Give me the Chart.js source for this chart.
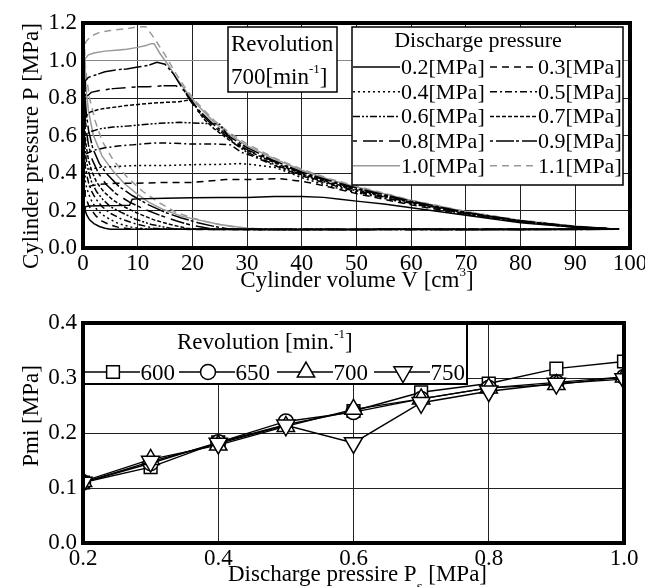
<!DOCTYPE html>
<html>
<head>
<meta charset="utf-8">
<script src="https://cdn.jsdelivr.net/npm/chart.js@4.4.1/dist/chart.umd.min.js"></script>
<style>
  body { margin: 0; background: #fff; }
  canvas { position: absolute; left: 0; }
</style>
</head>
<body>
<canvas id="pv" width="645" height="300" style="top:0"></canvas>
<canvas id="pmi" width="645" height="287" style="top:300px"></canvas>
<script>
// P-V loops at 700 min-1, one per discharge pressure (volume cm3, pressure MPa)
const vol02 = [98,90,80,70,60,55,50,47,44,40,35,30,25,20,15,10,9,8.5,6,3,1,0.4,0.4,0.7,1.2,2,3,4,5,20,40,60,80,98]
const pre02 = [0.1,0.11,0.135,0.175,0.215,0.235,0.25,0.26,0.27,0.275,0.275,0.27,0.27,0.268,0.265,0.262,0.26,0.228,0.226,0.225,0.224,0.22,0.2,0.175,0.15,0.13,0.115,0.105,0.1,0.1,0.098,0.1,0.098,0.1]
const vol03 = [98,90,80,70,60,50,45,42,40,36,30,26,20,15,10,6,3,1.2,0.4,0.4,0.6,1,1.6,2.4,3.4,4.8,6.5,9,40,60,80,98]
const pre03 = [0.1,0.111,0.138,0.178,0.23,0.29,0.325,0.345,0.355,0.37,0.365,0.365,0.35,0.35,0.345,0.345,0.34,0.33,0.31,0.28,0.26,0.23,0.2,0.17,0.145,0.125,0.11,0.1,0.098,0.1,0.1,0.1]
const vol04 = [98,90,80,70,60,50,45,40,36,35,31,28.7,24,21,15,10,6,3.1,1.2,0.4,0.4,0.6,1,1.6,2.4,3.4,4.8,6.5,9,12,40,60,80,98]
const pre04 = [0.1,0.112,0.14,0.181,0.235,0.295,0.33,0.375,0.42,0.43,0.445,0.45,0.445,0.445,0.44,0.44,0.435,0.43,0.42,0.4,0.36,0.33,0.29,0.25,0.21,0.18,0.155,0.13,0.11,0.1,0.1,0.098,0.1,0.1]
const vol05 = [98,90,80,70,60,50,45,40,35,31,29,27,24,19.6,15,12.8,9,6.8,4,1.8,0.4,0.4,0.6,1,1.6,2.4,3.5,5,7,9.5,13,15,40,60,80,98]
const pre05 = [0.1,0.112,0.141,0.183,0.238,0.3,0.34,0.385,0.44,0.49,0.51,0.55,0.555,0.555,0.56,0.56,0.55,0.545,0.535,0.52,0.5,0.44,0.4,0.35,0.3,0.26,0.22,0.185,0.155,0.13,0.105,0.1,0.098,0.1,0.1,0.1]
const vol06 = [98,90,80,70,60,50,45,40,35,30,27.5,26,25,22,17.7,14,11.7,8,5.5,3,1.3,0.4,0.4,0.6,1,1.6,2.5,3.6,5,7,9.5,12.5,16,18,40,60,80,98]
const pre06 = [0.1,0.113,0.142,0.185,0.242,0.305,0.345,0.39,0.445,0.51,0.56,0.62,0.66,0.665,0.67,0.665,0.66,0.65,0.645,0.635,0.62,0.6,0.52,0.47,0.41,0.35,0.3,0.26,0.22,0.19,0.155,0.125,0.105,0.1,0.1,0.098,0.1,0.1]
const vol07 = [98,90,80,70,60,50,45,40,35,30,27,24,22,20.5,19.5,17.5,14,11.7,8,5.5,3,1.3,0.4,0.4,0.6,1,1.6,2.5,3.8,5.5,7.5,10,13,16,19,21,40,60,80,98]
const pre07 = [0.1,0.113,0.143,0.187,0.245,0.31,0.35,0.395,0.455,0.52,0.57,0.635,0.69,0.76,0.79,0.78,0.775,0.77,0.76,0.75,0.74,0.725,0.7,0.6,0.54,0.47,0.41,0.35,0.3,0.255,0.22,0.185,0.15,0.125,0.105,0.1,0.098,0.1,0.1,0.1]
const vol08 = [98,90,80,70,60,50,45,40,35,30,27,24,21,19.5,18.5,17,14.5,12,10,8,5.5,3,1.5,0.4,0.4,0.6,1,1.7,2.8,4.2,6,8.5,11,14,17,20,24,40,60,80,98]
const pre08 = [0.1,0.114,0.144,0.188,0.247,0.315,0.355,0.4,0.46,0.525,0.58,0.645,0.73,0.79,0.84,0.865,0.865,0.86,0.86,0.855,0.85,0.84,0.83,0.8,0.7,0.63,0.55,0.47,0.4,0.34,0.29,0.245,0.21,0.175,0.145,0.12,0.1,0.1,0.098,0.1,0.1]
const vol09 = [98,90,80,70,60,50,45,40,35,30,27,24,21,19.5,18,16.5,15,13.5,12,10,8,6,4,3,2,1,0.4,0.4,0.6,1,1.8,3,4.5,6.5,9,12,15,18,21,24,27,40,60,80,98]
const pre09 = [0.1,0.114,0.145,0.19,0.25,0.32,0.36,0.405,0.465,0.535,0.59,0.655,0.74,0.8,0.86,0.93,0.98,0.99,0.975,0.965,0.955,0.95,0.94,0.93,0.92,0.91,0.89,0.8,0.72,0.63,0.53,0.45,0.39,0.33,0.28,0.23,0.19,0.16,0.135,0.115,0.1,0.098,0.1,0.098,0.1]
const vol10 = [98,90,80,70,60,50,45,40,35,30,27,24,21,19,17,15.5,14,13,12.5,11.5,10,8,6,4,2,1,0.4,0.4,0.6,1,1.9,3.5,5.5,7.5,9.8,12,14.7,18,21,25,30,34,50,70,85,98]
const pre10 = [0.1,0.116,0.147,0.193,0.253,0.325,0.365,0.415,0.475,0.545,0.6,0.67,0.76,0.83,0.91,0.98,1.04,1.09,1.09,1.08,1.07,1.06,1.055,1.05,1.04,1.03,1.01,0.92,0.84,0.73,0.6,0.49,0.41,0.345,0.29,0.245,0.205,0.17,0.15,0.125,0.105,0.1,0.1,0.098,0.1,0.1]
const vol11 = [98,90,80,70,60,50,45,40,35,30,27,24,21,19,17,15,13,11.5,10,8,5,3,1.5,0.5,0.3,0.4,0.7,1.2,2.2,3.5,5.5,8,11,14,17,20,24,28,33,45,60,80,98]
const pre11 = [0.1,0.117,0.148,0.195,0.255,0.33,0.37,0.42,0.48,0.555,0.61,0.68,0.77,0.84,0.93,1.03,1.12,1.18,1.18,1.17,1.16,1.15,1.13,1.1,1.06,0.98,0.9,0.8,0.68,0.57,0.47,0.38,0.3,0.24,0.19,0.16,0.13,0.11,0.1,0.1,0.098,0.1,0.1]

const dischargeLabels = ['0.2[MPa]','0.3[MPa]','0.4[MPa]','0.5[MPa]','0.6[MPa]','0.7[MPa]','0.8[MPa]','0.9[MPa]','1.0[MPa]','1.1[MPa]']

// Pmi vs discharge pressure for each revolution
const dischargeP = [0.2,0.3,0.4,0.5,0.6,0.7,0.8,0.9,1.0]
const pmi600 = [0.11,0.138,0.183,0.215,0.240,0.274,0.290,0.317,0.330]
const pmi650 = [0.11,0.145,0.183,0.221,0.238,0.262,0.282,0.292,0.302]
const pmi700 = [0.112,0.152,0.178,0.212,0.243,0.262,0.282,0.288,0.302]
const pmi750 = [0.11,0.148,0.181,0.214,0.182,0.255,0.276,0.290,0.298]
const revLabels = ['600','650','700','750']

const FONT = '"Liberation Serif", "Times New Roman", serif'

const loops = [[vol02,pre02],[vol03,pre03],[vol04,pre04],[vol05,pre05],[vol06,pre06],
               [vol07,pre07],[vol08,pre08],[vol09,pre09],[vol10,pre10],[vol11,pre11]]
const loopStyle = [
    {c:'#000', d:[]},
    {c:'#000', d:[7,5]},
    {c:'#000', d:[2,3]},
    {c:'#000', d:[7,3,2,3]},
    {c:'#000', d:[7,2,2,2,2,2]},
    {c:'#000', d:[4,2]},
    {c:'#000', d:[4,6,14,2]},
    {c:'#000', d:[3,3,18,2]},
    {c:'#999', d:[]},
    {c:'#999', d:[7,5]}
]

function pts(xs, ys) {
    return xs.map((x, i) => ({x: x, y: ys[i]}))
}

function rich(ctx, x, y, parts, align) {
    let w = 0
    parts.forEach(p => {
        ctx.font = p.s + 'px ' + FONT
        p.w = ctx.measureText(p.t).width
        w += p.w
    })
    let cx = align === 'center' ? x - w / 2 : x
    ctx.textAlign = 'left'
    ctx.textBaseline = 'alphabetic'
    ctx.fillStyle = '#000'
    parts.forEach(p => {
        ctx.font = p.s + 'px ' + FONT
        ctx.fillText(p.t, cx, y + (p.dy || 0))
        cx += p.w
    })
}

function vTitle(ctx, x, y, text, size) {
    ctx.save()
    ctx.translate(x, y)
    ctx.rotate(-Math.PI / 2)
    ctx.font = size + 'px ' + FONT
    ctx.fillStyle = '#000'
    ctx.textAlign = 'center'
    ctx.textBaseline = 'alphabetic'
    ctx.fillText(text, 0, 0)
    ctx.restore()
}

function box(ctx, x0, y0, x1, y1, lw) {
    ctx.save()
    ctx.fillStyle = '#fff'
    ctx.fillRect(x0, y0, x1 - x0, y1 - y0)
    ctx.strokeStyle = '#000'
    ctx.lineWidth = lw
    ctx.strokeRect(x0, y0, x1 - x0, y1 - y0)
    ctx.restore()
}

function frame(chart) {
    const a = chart.chartArea
    const ctx = chart.ctx
    ctx.save()
    ctx.strokeStyle = '#000'
    ctx.lineWidth = 4
    ctx.strokeRect(a.left, a.top, a.right - a.left, a.bottom - a.top)
    ctx.restore()
}

function axisFix(w, h) {
    return function (scale) {
        if (w) scale.width = w
        if (h) scale.height = h
        scale.paddingLeft = 0
        scale.paddingRight = 0
        scale.paddingTop = 0
        scale.paddingBottom = 0
    }
}

const pvExtras = {
    id: 'pvExtras',
    afterDraw(chart) {
        const ctx = chart.ctx
        // revolution box
        box(ctx, 228, 27, 337, 92, 1.5)
        rich(ctx, 231, 51, [{t:'Revolution', s:23}])
        rich(ctx, 231, 84, [{t:'700[min', s:23}, {t:'-1', s:13, dy:-11}, {t:']', s:23}])
        // discharge pressure legend
        box(ctx, 352, 27, 623, 185, 1.5)
        rich(ctx, 478, 47, [{t:'Discharge pressure', s:22}], 'center')
        chart.data.datasets.forEach((ds, i) => {
            const col = i % 2, row = Math.floor(i / 2)
            const x0 = col ? 490 : 353
            const x1 = col ? 537 : 400
            const y = 67 + row * 24.7
            ctx.save()
            ctx.strokeStyle = ds.borderColor
            ctx.lineWidth = 1.5
            ctx.setLineDash(ds.borderDash)
            ctx.beginPath()
            ctx.moveTo(x0, y)
            ctx.lineTo(x1, y)
            ctx.stroke()
            ctx.restore()
            rich(ctx, x1 + 1, y + 7, [{t:ds.label, s:22}])
        })
        frame(chart)
        vTitle(ctx, 38, 146, 'Cylinder pressure P [MPa]', 23)
        rich(ctx, 357, 287, [{t:'Cylinder volume V [cm', s:23}, {t:'3', s:13, dy:-11}, {t:']', s:23}], 'center')
    }
}

new Chart(document.getElementById('pv'), {
    type: 'scatter',
    data: {
        datasets: loops.map((l, i) => ({
            label: dischargeLabels[i],
            data: pts(l[0], l[1]),
            showLine: true,
            borderColor: loopStyle[i].c,
            borderDash: loopStyle[i].d,
            borderWidth: 1.5,
            pointRadius: 0,
            tension: 0
        }))
    },
    options: {
        responsive: false,
        animation: false,
        layout: { padding: { left: 0, right: 15, top: 23, bottom: 0 } },
        plugins: { legend: { display: false }, tooltip: { enabled: false } },
        scales: {
            x: {
                type: 'linear', min: 0, max: 100,
                afterFit: axisFix(0, 52),
                border: { display: false },
                grid: { color: '#222', lineWidth: 1, drawTicks: false },
                ticks: { stepSize: 10, autoSkip: false, maxRotation: 0, padding: 2,
                         color: '#000', font: { family: FONT, size: 23 } }
            },
            y: {
                type: 'linear', min: 0, max: 1.2,
                afterFit: axisFix(83, 0),
                border: { display: false },
                grid: { drawTicks: false, lineWidth: 1,
                        color: c => (c.tick && Math.abs(c.tick.value - 1) < 1e-6) ? '#888' : '#222' },
                ticks: { stepSize: 0.2, padding: 6, color: '#000',
                         font: { family: FONT, size: 23 },
                         callback: v => v.toFixed(1) }
            }
        }
    },
    plugins: [pvExtras]
})

const markers = [
    {style:'rect', r:9, rot:0},
    {style:'circle', r:7.5, rot:0},
    {style:'triangle', r:10, rot:0},
    {style:'triangle', r:10.5, rot:180}
]

const pmiExtras = {
    id: 'pmiExtras',
    afterDraw(chart) {
        const ctx = chart.ctx
        box(ctx, 83, 23, 467, 84, 2)
        rich(ctx, 177, 49, [{t:'Revolution [min.', s:23}, {t:'-1', s:13, dy:-11}, {t:']', s:23}])
        const mx = [113, 208, 306, 403]
        const y = 72
        chart.data.datasets.forEach((ds, i) => {
            ctx.save()
            ctx.strokeStyle = '#000'
            ctx.lineWidth = 1.5
            ctx.beginPath()
            ctx.moveTo(mx[i] - 29, y)
            ctx.lineTo(mx[i] + 27, y)
            ctx.stroke()
            ctx.fillStyle = '#fff'
            ctx.lineWidth = 1.5
            Chart.helpers.drawPoint(ctx, {pointStyle: markers[i].style, radius: markers[i].r,
                                          rotation: markers[i].rot, borderWidth: 1.5}, mx[i], y)
            ctx.restore()
            rich(ctx, mx[i] + 27.5, y + 8, [{t:ds.label, s:23}])
        })
        frame(chart)
        vTitle(ctx, 38, 116, 'Pmi [MPa]', 23)
        rich(ctx, 228, 281, [{t:'Discharge pressire P', s:23}, {t:'s', s:15, dy:10}, {t:' [MPa]', s:23}])
    }
}

const pmiSeries = [pmi600, pmi650, pmi700, pmi750]

new Chart(document.getElementById('pmi'), {
    type: 'scatter',
    data: {
        datasets: pmiSeries.map((s, i) => ({
            label: revLabels[i],
            data: pts(dischargeP, s),
            showLine: true,
            order: 3 - i,
            borderColor: '#000',
            borderWidth: 1.4,
            pointStyle: markers[i].style,
            pointRadius: markers[i].r,
            rotation: markers[i].rot,
            pointBackgroundColor: '#fff',
            pointBorderColor: '#000',
            pointBorderWidth: 1.5,
            tension: 0
        }))
    },
    options: {
        responsive: false,
        animation: false,
        layout: { padding: { left: 0, right: 21, top: 23, bottom: 0 } },
        plugins: { legend: { display: false }, tooltip: { enabled: false } },
        scales: {
            x: {
                type: 'linear', min: 0.2, max: 1.0,
                afterFit: axisFix(0, 44),
                border: { display: false },
                grid: { color: '#222', lineWidth: 1, drawTicks: false },
                ticks: { stepSize: 0.2, autoSkip: false, maxRotation: 0, padding: 2,
                         color: '#000', font: { family: FONT, size: 23 },
                         callback: v => v.toFixed(1) }
            },
            y: {
                type: 'linear', min: 0, max: 0.4,
                afterFit: axisFix(83, 0),
                border: { display: false },
                grid: { color: '#222', lineWidth: 1, drawTicks: false },
                ticks: { stepSize: 0.1, padding: 6, color: '#000',
                         font: { family: FONT, size: 23 },
                         callback: v => v.toFixed(1) }
            }
        }
    },
    plugins: [pmiExtras]
})
</script>
</body>
</html>
